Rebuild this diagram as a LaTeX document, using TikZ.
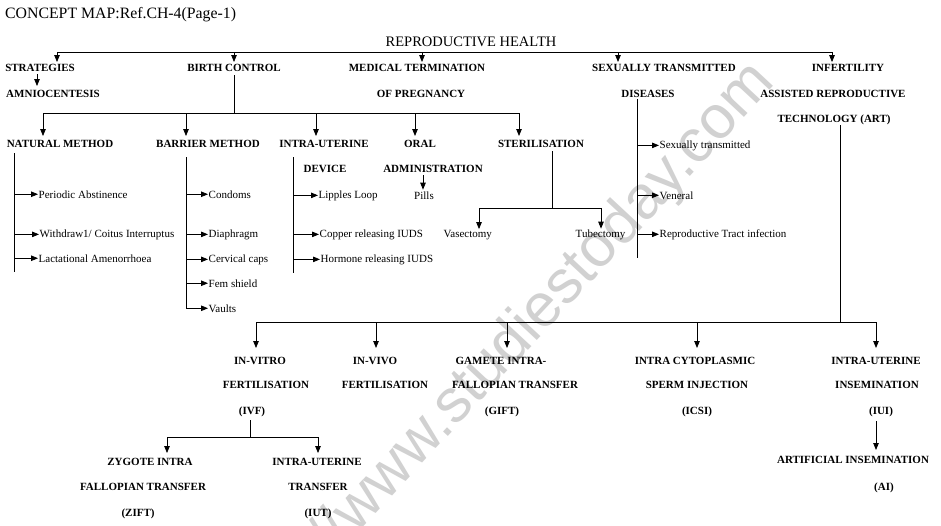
\documentclass[tikz,border=0pt]{standalone}
\usepackage{fontspec}
\setmainfont{Liberation Serif}
\newfontfamily\wmfont{Liberation Sans}
\usetikzlibrary{arrows.meta}
\begin{document}
\begin{tikzpicture}[x=1pt,y=-1pt,
  hd/.style={font=\fontsize{11}{13}\selectfont\bfseries, inner sep=0.5pt, anchor=base},
  it/.style={font=\fontsize{11}{13}\selectfont, inner sep=0.5pt, anchor=base west},
  big/.style={font=\fontsize{14.5}{17}\selectfont, inner sep=0pt},
  ln/.style={line width=0.8pt},
  arr/.style={line width=0.8pt,-{Triangle[length=7pt,width=5.5pt]}}]
\useasboundingbox (0,0) rectangle (941,525);
\fill[white] (0,0) rectangle (941,525);
% watermark
\begin{scope}
\clip (0,0) rectangle (941,525);
\node[font=\wmfont\fontsize{61}{61}\selectfont, text=black!18, rotate=47, anchor=base west, inner sep=0] (wm) at (252,646) {http://www.studiestoday.com};
\end{scope}
% titles
\node[big, anchor=base west, font=\fontsize{15.8}{18}\selectfont] (title) at (5,18) {CONCEPT MAP:Ref.CH-4(Page-1)};
\node[big, anchor=base] (rh) at (471,46) {REPRODUCTIVE HEALTH};
% level 1
\node[hd] (s1) at (40,71) {STRATEGIES};
\node[hd] (am) at (53,97) {AMNIOCENTESIS};
\node[hd] (bc) at (234,71) {BIRTH CONTROL};
\node[hd] (mt1) at (417,71) {MEDICAL TERMINATION};
\node[hd] (mt2) at (421,97) {OF PREGNANCY};
\node[hd] (st1) at (664,71) {SEXUALLY TRANSMITTED};
\node[hd] (st2) at (648,97) {DISEASES};
\node[hd] (in1) at (848,71) {INFERTILITY};
\node[hd] (as1) at (833,97) {ASSISTED REPRODUCTIVE};
\node[hd] (as2) at (834,122) {TECHNOLOGY (ART)};
% level 2
\node[hd] (nm) at (60,147) {NATURAL METHOD};
\node[hd] (bm) at (208,147) {BARRIER METHOD};
\node[hd] (iu1) at (324,147) {INTRA-UTERINE};
\node[hd] (iu2) at (325,172) {DEVICE};
\node[hd] (or1) at (420,147) {ORAL};
\node[hd] (or2) at (433,172) {ADMINISTRATION};
\node[hd] (sl) at (541,147) {STERILISATION};
% items
\node[it] (n1) at (38,198) {Periodic Abstinence};
\node[it] (n2) at (39,237) {Withdraw1/ Coitus Interruptus};
\node[it] (n3) at (38,262) {Lactational Amenorrhoea};
\node[it] (b1) at (208,198) {Condoms};
\node[it] (b2) at (208,237) {Diaphragm};
\node[it] (b3) at (208,262) {Cervical caps};
\node[it] (b4) at (208,287) {Fem shield};
\node[it] (b5) at (208,312) {Vaults};
\node[it] (d1) at (318,198) {Lipples Loop};
\node[it] (d2) at (319,237) {Copper releasing IUDS};
\node[it] (d3) at (320,262) {Hormone releasing IUDS};
\node[it, anchor=base] (pills) at (424,199) {Pills};
\node[it] (vas) at (443,237) {Vasectomy};
\node[it] (tub) at (575,237) {Tubectomy};
\node[it] (x1) at (659,148) {Sexually transmitted};
\node[it] (x2) at (659,199) {Veneral};
\node[it] (x3) at (659,237) {Reproductive Tract infection};
% level 3
\node[hd] (ivf1) at (260,364) {IN-VITRO};
\node[hd] (ivf2) at (266,388) {FERTILISATION};
\node[hd] (ivf3) at (252,414) {(IVF)};
\node[hd] (ivv1) at (375,364) {IN-VIVO};
\node[hd] (ivv2) at (385,388) {FERTILISATION};
\node[hd] (g1) at (501,364) {GAMETE INTRA-};
\node[hd] (g2) at (515,388) {FALLOPIAN TRANSFER};
\node[hd] (g3) at (502,414) {(GIFT)};
\node[hd] (ic1) at (695,364) {INTRA CYTOPLASMIC};
\node[hd] (ic2) at (697,388) {SPERM INJECTION};
\node[hd] (ic3) at (697,414) {(ICSI)};
\node[hd] (iui1) at (876,364) {INTRA-UTERINE};
\node[hd] (iui2) at (877,388) {INSEMINATION};
\node[hd] (iui3) at (881,414) {(IUI)};
\node[hd] (ai1) at (853,463) {ARTIFICIAL INSEMINATION};
\node[hd] (ai2) at (884,490) {(AI)};
% level 4
\node[hd] (z1) at (150,465) {ZYGOTE INTRA};
\node[hd] (z2) at (143,490) {FALLOPIAN TRANSFER};
\node[hd] (z3) at (138,516) {(ZIFT)};
\node[hd] (iut1) at (317,465) {INTRA-UTERINE};
\node[hd] (iut2) at (318,490) {TRANSFER};
\node[hd] (iut3) at (318,516) {(IUT)};
% ---- connectors ----
% top bus
\coordinate (ta) at (57,52); \coordinate (tb) at (234,52); \coordinate (tc) at (422,52);
\coordinate (td) at (618,52); \coordinate (te) at (832,52);
\draw[ln] (ta) -- (te);
\draw[arr, shorten >=1pt] (ta) -- (ta |- s1.north);
\draw[arr, shorten >=1pt] (tb) -- (tb |- bc.north);
\draw[arr, shorten >=1pt] (tc) -- (tc |- mt1.north);
\draw[arr, shorten >=1pt] (td) -- (td |- st1.north);
\draw[arr, shorten >=1pt] (te) -- (te |- in1.north);
% strategies
\coordinate (sa) at (37,74);
\draw[arr, shorten >=3pt] (sa) -- (sa |- am.north);
% birth control
\coordinate (bc0) at (234,75); \coordinate (bcj) at (234,113);
\draw[ln] (bc0) -- (bcj);
\coordinate (ca) at (43,113); \coordinate (cb) at (186,113); \coordinate (cc) at (316,113);
\coordinate (cd) at (415,113); \coordinate (ce) at (519,113);
\draw[ln] (ca) -- (ce);
\draw[arr, shorten >=3pt] (ca) -- (ca |- nm.north);
\draw[arr, shorten >=3pt] (cb) -- (cb |- bm.north);
\draw[arr, shorten >=3pt] (cc) -- (cc |- iu1.north);
\draw[arr, shorten >=3pt] (cd) -- (cd |- or1.north);
\draw[arr, shorten >=3pt] (ce) -- (ce |- sl.north);
% natural method
\coordinate (na) at (14,153); \coordinate (nb) at (14,272);
\draw[ln] (na) -- (nb);
\draw[arr] (na |- n1.west) -- (n1.west);
\draw[arr] (na |- n2.west) -- (n2.west);
\draw[arr] (na |- n3.west) -- (n3.west);
% barrier method
\coordinate (ba) at (186,157);
\draw[ln] (ba) -- (ba |- b5.west);
\draw[arr] (ba |- b1.west) -- (b1.west);
\draw[arr] (ba |- b2.west) -- (b2.west);
\draw[arr] (ba |- b3.west) -- (b3.west);
\draw[arr] (ba |- b4.west) -- (b4.west);
\draw[arr] (ba |- b5.west) -- (b5.west);
% IUD
\coordinate (da) at (293,157); \coordinate (db) at (293,273);
\draw[ln] (da) -- (db);
\draw[arr] (da |- d1.west) -- (d1.west);
\draw[arr] (da |- d2.west) -- (d2.west);
\draw[arr] (da |- d3.west) -- (d3.west);
% oral
\coordinate (o0) at (423,175);
\draw[arr, shorten >=1pt] (o0) -- (o0 |- pills.north);
% sterilisation
\coordinate (s0) at (552,151); \coordinate (sv) at (552,208);
\draw[ln] (s0) -- (sv);
\coordinate (vl) at (479,208); \coordinate (vr) at (601,208);
\draw[ln] (vl) -- (vr);
\draw[arr] (vl) -- (vl |- vas.north);
\draw[arr] (vr) -- (vr |- tub.north);
% STD
\coordinate (xa) at (637,99); \coordinate (xb) at (637,258);
\draw[ln] (xa) -- (xb);
\draw[arr] (xa |- x1.west) -- (x1.west);
\draw[arr] (xa |- x2.west) -- (x2.west);
\draw[arr] (xa |- x3.west) -- (x3.west);
% ART
\coordinate (r0) at (840,125); \coordinate (rj) at (840,322);
\draw[ln] (r0) -- (rj);
\coordinate (ra) at (256,322); \coordinate (rb) at (376,322); \coordinate (rc) at (507,322);
\coordinate (rd) at (697,322); \coordinate (re) at (876,322);
\draw[ln] (ra) -- (re);
\draw[arr, shorten >=8pt] (ra) -- (ra |- ivf1.north);
\draw[arr, shorten >=8pt] (rb) -- (rb |- ivv1.north);
\draw[arr, shorten >=8pt] (rc) -- (rc |- g1.north);
\draw[arr, shorten >=8pt] (rd) -- (rd |- ic1.north);
\draw[arr, shorten >=8pt] (re) -- (re |- iui1.north);
% IUI -> AI
\coordinate (u0) at (876,421);
\draw[arr, shorten >=5pt] (u0) -- (u0 |- ai1.north);
% IVF
\coordinate (v0) at (250,420); \coordinate (v1) at (250,437);
\coordinate (vz) at (167,437); \coordinate (vu) at (318,437);
\draw[ln] (v0) -- (v1);
\draw[ln] (vz) -- (vu);
\draw[arr, shorten >=4pt] (vz) -- (vz |- z1.north);
\draw[arr, shorten >=4pt] (vu) -- (vu |- iut1.north);
\end{tikzpicture}
\end{document}
